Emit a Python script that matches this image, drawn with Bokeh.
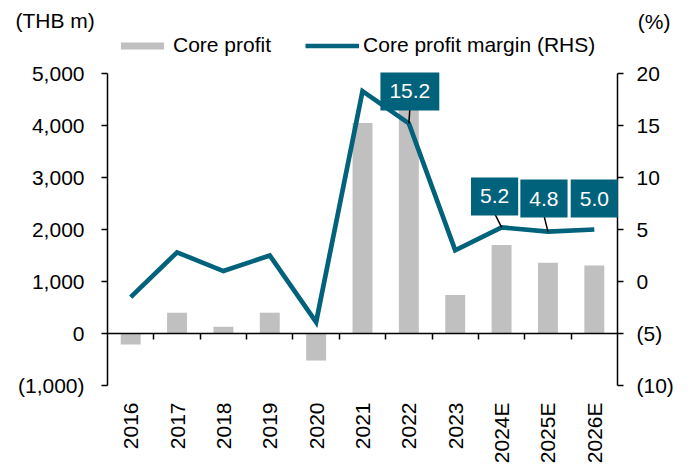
import math
from bokeh.plotting import figure
from bokeh.models import (Range1d, LinearAxis, FixedTicker, Label, Legend,
                          LegendItem, ColumnDataSource, CustomJSTickFormatter)
from bokeh.embed import file_html
from bokeh.resources import INLINE

# ---------------- data ----------------
years = ["2016", "2017", "2018", "2019", "2020", "2021", "2022", "2023",
         "2024E", "2025E", "2026E"]
core_profit = [-210, 400, 130, 400, -520, 4050, 4400, 740, 1700, 1360, 1310]
core_margin = [-1.5, 2.8, 1.0, 2.5, -3.9, 18.3, 15.2, 3.0, 5.2, 4.8, 5.0]
left_ticks = [-1000, 0, 1000, 2000, 3000, 4000, 5000]
right_ticks = [-10, -5, 0, 5, 10, 15, 20]
labelled_years = ["2022", "2024E", "2025E", "2026E"]

# ---------------- style / layout ----------------
FONT = "Liberation Sans"
FS = "21px"
TEAL = "#00627B"
GREY = "#C0C0C0"
W, H = 688, 473
# plot area (axes box) in canvas pixels
AX_L, AX_R, AX_T, AX_B = 107, 617, 73, 385
# label box offsets (px) and whether a leader line is drawn
label_style = {"2022": (1, 32, True), "2024E": (-7, 31, True),
               "2025E": (-4, 33, True), "2026E": (0, 31, False)}
BOX_HALF_H = 17

n = len(years)
x_lo, x_hi = -0.5, n - 0.5


def fmt(v):
    return f"({abs(v):,})" if v < 0 else f"{v:,}"


def span_x():
    ppu = (AX_R - AX_L) / (x_hi - x_lo)
    return Range1d(x_lo - AX_L / ppu, x_hi + (W - AX_R) / ppu), ppu


def span_y(lo, hi):
    ppu = (AX_B - AX_T) / (hi - lo)
    return Range1d(lo - (H - AX_B) / ppu, hi + AX_T / ppu), ppu


xr, px_x = span_x()
yr_left, _ = span_y(left_ticks[0], left_ticks[-1])
yr_pct, px_y = span_y(right_ticks[0], right_ticks[-1])

xs = list(range(n))
p = figure(width=W, height=H, x_range=xr, y_range=yr_left,
           output_backend="svg", toolbar_location=None,
           min_border_left=0, min_border_right=0,
           min_border_top=0, min_border_bottom=0)
p.title.visible = False
p.extra_y_ranges = {"pct": yr_pct}
p.outline_line_color = None
p.xgrid.visible = False
p.ygrid.visible = False
p.background_fill_color = "white"
p.border_fill_color = "white"

src = ColumnDataSource(dict(x=xs, year=years, cp=core_profit, cm=core_margin))
bars = p.vbar(x="x", top="cp", bottom=0, width=0.43, source=src,
              fill_color=GREY, line_color=None)
line = p.line(x="x", y="cm", source=src, y_range_name="pct",
              line_color=TEAL, line_width=4.7, line_join="miter")


def style_axis(ax):
    ax.axis_line_color = "black"
    ax.axis_line_width = 1.5
    ax.major_tick_line_color = "black"
    ax.major_tick_line_width = 1.5
    ax.minor_tick_line_color = None
    ax.major_label_text_font = FONT
    ax.major_label_text_font_size = FS
    ax.major_label_text_color = "black"


# left axis
ly = p.yaxis[0]
style_axis(ly)
ly.fixed_location = x_lo
ly.bounds = (left_ticks[0], left_ticks[-1])
ly.ticker = FixedTicker(ticks=left_ticks)
ly.major_label_overrides = {t: fmt(t) for t in left_ticks}
ly.major_tick_out = 6
ly.major_tick_in = 0
ly.major_label_standoff = 17

# right axis
ry = LinearAxis(y_range_name="pct", ticker=FixedTicker(ticks=right_ticks),
                bounds=(right_ticks[0], right_ticks[-1]), fixed_location=x_hi)
style_axis(ry)
ry.major_label_overrides = {t: fmt(t) for t in right_ticks}
ry.major_tick_out = 6
ry.major_tick_in = 0
ry.major_label_standoff = 13
p.add_layout(ry, "right")

# category label axis
lx = p.xaxis[0]
style_axis(lx)
lx.fixed_location = left_ticks[0]
lx.ticker = FixedTicker(ticks=xs)
lx.major_label_overrides = {i: y for i, y in zip(xs, years)}
lx.axis_line_color = None
lx.major_tick_line_color = None
lx.major_tick_out = 0
lx.major_tick_in = 0
lx.major_label_orientation = math.pi / 2
lx.major_label_standoff = 17

# zero line axis with ticks at category boundaries
zx = LinearAxis(fixed_location=0, bounds=(x_lo, x_hi),
                ticker=FixedTicker(ticks=[i + 0.5 for i in xs[:-1]]),
                formatter=CustomJSTickFormatter(code="return ''"))
style_axis(zx)
zx.major_tick_out = 6
zx.major_tick_in = 0
zx.major_label_standoff = 0
p.add_layout(zx, "below")

# value labels with leader lines
lead = dict(x0=[], y0=[], x1=[], y1=[])
for yr in labelled_years:
    i = years.index(yr)
    v = core_margin[i]
    dx, dy, has_leader = label_style[yr]
    if has_leader:
        lead["x0"].append(i)
        lead["y0"].append(v)
        lead["x1"].append(i + dx / px_x)
        lead["y1"].append(v + (dy - BOX_HALF_H) / px_y)
p.segment(x0="x0", y0="y0", x1="x1", y1="y1", source=ColumnDataSource(lead),
          y_range_name="pct", line_color="black", line_width=1.5)
for yr in labelled_years:
    i = years.index(yr)
    v = core_margin[i]
    dx, dy, _ = label_style[yr]
    p.add_layout(Label(x=i, y=v, y_range_name="pct", x_offset=dx, y_offset=dy,
                       text=f"{v:.1f}", text_align="center",
                       text_baseline="middle", text_color="white",
                       text_font=FONT, text_font_size=FS,
                       background_fill_color=TEAL, padding=(9, 12)))

# unit labels
p.add_layout(Label(x=15, y=H - 20, x_units="screen", y_units="screen",
                   text="(THB m)", text_align="left", text_baseline="middle",
                   text_font=FONT, text_font_size=FS, text_color="black"))
p.add_layout(Label(x=670, y=H - 21, x_units="screen", y_units="screen",
                   text="(%)", text_align="right", text_baseline="middle",
                   text_font=FONT, text_font_size=FS, text_color="black"))

# legend
legend = Legend(items=[LegendItem(label="Core profit", renderers=[bars]),
                       LegendItem(label="Core profit margin (RHS)",
                                  renderers=[line])],
                orientation="horizontal", location=(115, H - 57),
                padding=0, margin=0, spacing=34, label_standoff=4,
                glyph_width=54, glyph_height=9,
                label_text_font=FONT, label_text_font_size=FS,
                label_text_color="black",
                border_line_color=None, background_fill_alpha=0)
p.add_layout(legend)

open("out.html", "w").write(file_html(p, INLINE))
